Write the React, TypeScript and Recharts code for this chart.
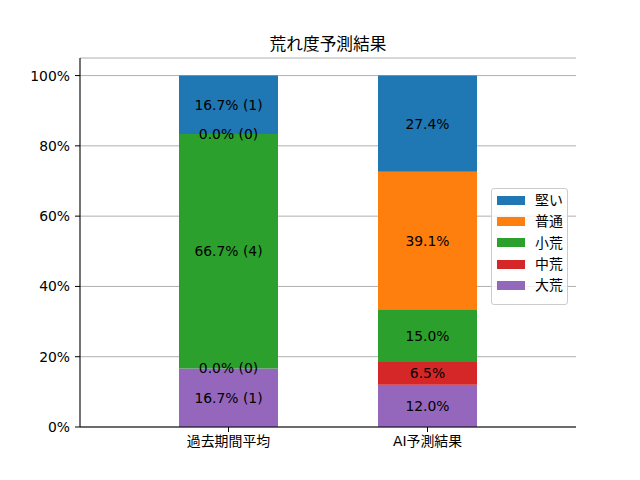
import { BarChart, Bar, XAxis, YAxis, CartesianGrid, LabelList, ReferenceDot } from 'recharts';

const categories = ['過去期間平均', 'AI予測結果'];
// stacked from bottom to top
const levels = ['大荒', '中荒', '小荒', '普通', '堅い'];
const pastPct = [16.67, 0, 66.67, 0, 16.67];
const pastCount = [1, 0, 4, 0, 1];
const aiPct = [12.0, 6.5, 15.0, 39.1, 27.4];
const yTicks = [0, 20, 40, 60, 80, 100];

const COLORS: Record<string, string> = {
  堅い: '#1f77b4',
  普通: '#ff7f0e',
  小荒: '#2ca02c',
  中荒: '#d62728',
  大荒: '#9467bd',
};

const FONT = '"DejaVu Sans", "Noto Sans CJK JP", sans-serif';

const data = categories.map((name, ci) => {
  const row: Record<string, string | number> = { name };
  levels.forEach((lv, li) => {
    if (ci === 0) {
      row[lv] = pastPct[li];
      row[lv + '_label'] = `${pastPct[li].toFixed(1)}% (${pastCount[li]})`;
    } else {
      row[lv] = aiPct[li];
      row[lv + '_label'] = `${aiPct[li].toFixed(1)}%`;
    }
  });
  return row;
});

// zero-height segments get no bar label from Recharts, so mark them with a dot
const zeroMarks: { name: string; y: number; text: string }[] = [];
data.forEach((row) => {
  let cum = 0;
  levels.forEach((lv) => {
    const v = Number(row[lv]);
    if (v === 0) zeroMarks.push({ name: String(row.name), y: cum, text: String(row[lv + '_label']) });
    cum += v;
  });
});

const labelText = (cx: number, cy: number, value: any) => (
  <text
    x={cx}
    y={cy}
    textAnchor="middle"
    dominantBaseline="central"
    fontSize={13.9}
    fontFamily={FONT}
    fill="#000"
  >
    {value}
  </text>
);

const renderLabel = (props: any) => {
  const { x, y, width, height, value } = props;
  return labelText(Number(x) + Number(width) / 2, Number(y) + Number(height) / 2, value);
};

function ChartLegend() {
  const items = [...levels].reverse();
  return (
    <div
      style={{
        position: 'absolute',
        left: 491,
        top: 188,
        width: 77,
        height: 117,
        border: '1px solid #cccccc',
        borderRadius: 3,
        background: 'rgba(255,255,255,0.8)',
        boxSizing: 'border-box',
        paddingTop: 0.5,
        fontFamily: FONT,
        fontSize: 13.9,
      }}
    >
      {items.map((lv) => (
        <div key={lv} style={{ display: 'flex', alignItems: 'center', height: 21.3 }}>
          <div style={{ width: 28, height: 9, marginLeft: 5, background: COLORS[lv] }} />
          <span style={{ marginLeft: 10, lineHeight: '16px' }}>{lv}</span>
        </div>
      ))}
    </div>
  );
}

export default function App() {
  return (
    <div style={{ position: 'absolute', left: 0, top: 0, width: 640, height: 480, background: '#fff' }}>
      <div
        style={{
          position: 'absolute',
          left: 80,
          width: 496,
          top: 33,
          lineHeight: '22px',
          textAlign: 'center',
          fontFamily: FONT,
          fontSize: 16.7,
          color: '#000',
        }}
      >
        荒れ度予測結果
      </div>
      <BarChart
        width={640}
        height={480}
        data={data}
        margin={{ top: 58, right: 64, left: 20, bottom: 23 }}
        barSize={99}
      >
        <CartesianGrid horizontal vertical={false} stroke="#b0b0b0" strokeWidth={1} />
        <XAxis
          dataKey="name"
          padding={{ left: 49, right: 49 }}
          height={30}
          axisLine={{ stroke: '#000', strokeWidth: 1.1 }}
          tickLine={{ stroke: '#000' }}
          tickSize={5}
          tickMargin={4}
          tick={{ fill: '#000', fontSize: 13.9, fontFamily: FONT }}
        />
        <XAxis
          xAxisId="top"
          orientation="top"
          dataKey="name"
          height={0}
          tick={false}
          tickLine={false}
          axisLine={{ stroke: '#000', strokeWidth: 1.1 }}
        />
        <YAxis
          domain={[0, 105]}
          ticks={yTicks}
          width={60}
          tickFormatter={(v: number) => `${v}%`}
          axisLine={{ stroke: '#000', strokeWidth: 1.1 }}
          tickLine={{ stroke: '#000' }}
          tickSize={5}
          tickMargin={5}
          tick={{ fill: '#000', fontSize: 13.9, fontFamily: FONT }}
        />
        <YAxis
          yAxisId="right"
          orientation="right"
          width={0}
          tick={false}
          tickLine={false}
          axisLine={{ stroke: '#000', strokeWidth: 1.1 }}
        />
        {levels.map((lv) => (
          <Bar key={lv} dataKey={lv} stackId="a" fill={COLORS[lv]} isAnimationActive={false}>
            <LabelList dataKey={lv + '_label'} content={renderLabel} />
          </Bar>
        ))}
        {zeroMarks.map((m, i) => (
          <ReferenceDot
            key={i}
            x={m.name}
            y={m.y}
            r={0}
            fill="none"
            stroke="none"
            label={{
              value: m.text,
              content: (p: any) => {
                const vb = p.viewBox || {};
                const cx = vb.cx !== undefined ? vb.cx : Number(vb.x) + Number(vb.width || 0) / 2;
                const cy = vb.cy !== undefined ? vb.cy : Number(vb.y) + Number(vb.height || 0) / 2;
                return labelText(cx, cy, m.text);
              },
            }}
          />
        ))}
      </BarChart>
      <ChartLegend />
    </div>
  );
}
